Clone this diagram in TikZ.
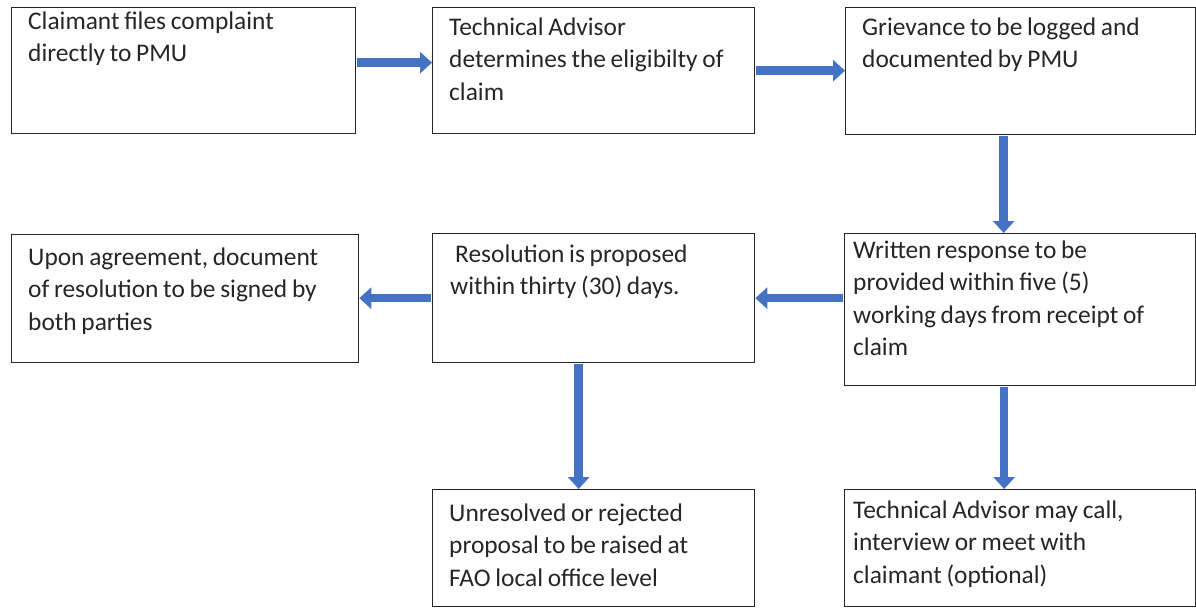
\documentclass[tikz,border=0pt]{standalone}
\usepackage{fontspec}
\setmainfont{Carlito}
\usetikzlibrary{arrows.meta,calc}
\definecolor{arrowblue}{HTML}{4472C4}
\definecolor{txtcol}{HTML}{262626}
\newcommand{\myboxfont}{\fontsize{25.4}{32.5}\selectfont}
\newcommand{\mytightspace}{\spaceskip=4.7pt plus 1pt minus 1pt\relax}
\tikzset{
  box/.style={draw=black!85, line width=1.3pt, anchor=north west, inner sep=0pt},
  txt/.style={anchor=base west, inner sep=0pt, text width=345pt, align=left,
              text=txtcol, font=\myboxfont, execute at begin node=\mytightspace},
  flow/.style={draw=arrowblue, line width=8.5pt,
               -{Triangle[width=21pt,length=12pt]}, arrowblue, shorten <=0.6pt}
}
\begin{document}
\begin{tikzpicture}[x=1pt,y=-1pt]
\useasboundingbox (0,0) rectangle (1196,608);
% boxes
\node[box, minimum width=344pt, minimum height=126pt] (b1) at (11,7) {};
\node[box, minimum width=322pt, minimum height=126pt] (b2) at (432,7) {};
\node[box, minimum width=350pt, minimum height=127pt] (b3) at (845,7) {};
\node[box, minimum width=351pt, minimum height=152pt] (b4) at (844,233) {};
\node[box, minimum width=322pt, minimum height=129pt] (b5) at (432,233) {};
\node[box, minimum width=347pt, minimum height=128pt] (b6) at (11,234) {};
\node[box, minimum width=322pt, minimum height=117pt] (b7) at (432,489) {};
\node[box, minimum width=351pt, minimum height=117pt] (b8) at (844,489) {};
% texts
\node[txt] (t1) at ($(b1.north west)+(17,22)$) {Claimant files complaint\\directly to PMU};
\node[txt] (t2) at ($(b2.north west)+(17,28)$) {Technical Advisor\\determines the eligibilty of\\claim};
\node[txt] (t3) at ($(b3.north west)+(17,28)$) {Grievance to be logged and\\documented by PMU};
\node[txt] (t4) at ($(b4.north west)+(9,25)$) {Written response to be\\provided within five (5)\\working days from receipt of\\claim};
\node[txt] (t5) at ($(b5.north west)+(18,29)$) {\hspace*{5pt}Resolution is proposed\\within thirty (30) days.};
\node[txt] (t6) at ($(b6.north west)+(17,31)$) {Upon agreement, document\\of resolution to be signed by\\both parties};
\node[txt] (t7) at ($(b7.north west)+(17,32)$) {Unresolved or rejected\\proposal to be raised at\\FAO local office level};
\node[txt] (t8) at ($(b8.north west)+(9,29)$) {Technical Advisor may call,\\interview or meet with\\claimant (optional)};
% connectors
\draw[flow] ([yshift=8pt]b1.east) -- ([yshift=8pt]b1.east -| b2.west);
\draw[flow] (b2.east) -- (b2.east -| b3.west);
\draw[flow] ([xshift=-17pt]b3.south) -- ([xshift=-17pt]b3.south |- b4.north);
\draw[flow] (b4.west |- b5.east) -- (b5.east);
\draw[flow] (b5.west) -- (b5.west -| b6.east);
\draw[flow] ([xshift=-15pt]b5.south) -- ([xshift=-15pt]b5.south |- b7.north);
\draw[flow] ([xshift=-16pt]b4.south) -- ([xshift=-16pt]b4.south |- b8.north);
\end{tikzpicture}
\end{document}
